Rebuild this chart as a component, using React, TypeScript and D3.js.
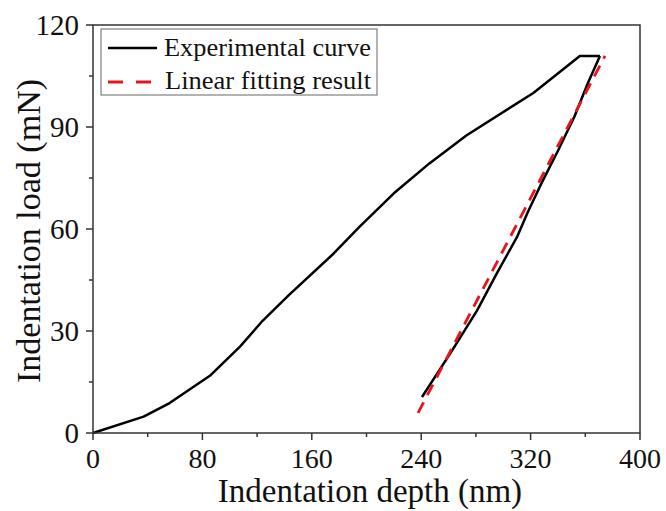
import React from "react";
import * as d3 from "d3";

const loadDepth = [0, 37, 56, 86, 107.5, 124, 143, 176, 195, 220, 246, 273, 322, 356, 370.7];
const loadForce = [0, 4.8, 8.8, 17, 25.4, 33, 40.5, 52.8, 60.7, 70.5, 79.3, 87.5, 100, 110.9, 110.9];
const unloadDepth = [370.7, 362, 352, 340, 328, 318, 310, 295.4, 280.8, 263, 240.6];
const unloadForce = [110.9, 103, 93, 83, 73.5, 65, 57.6, 47, 36, 24.5, 10.6];
const fitDepth = [237.7, 374.4];
const fitForce = [5.9, 110.9];
const xTicks = [0, 80, 160, 240, 320, 400];
const yTicks = [0, 30, 60, 90, 120];
const legendLabels = ["Experimental curve", "Linear fitting result"];

export default function App() {
  const W = 666, H = 511;
  const L = 93, R = 640, T = 25, B = 433;
  const x = d3.scaleLinear().domain([0, 400]).range([L, R]);
  const y = d3.scaleLinear().domain([0, 120]).range([B, T]);
  const line = d3.line<[number, number]>().x(d => x(d[0])).y(d => y(d[1]));
  const load = loadDepth.map((d, i) => [d, loadForce[i]] as [number, number]);
  const unload = unloadDepth.map((d, i) => [d, unloadForce[i]] as [number, number]);
  const fit = fitDepth.map((d, i) => [d, fitForce[i]] as [number, number]);
  const xMinor = d3.range(40, 400, 80);
  const yMinor = d3.range(15, 120, 30);
  const font = "'Liberation Serif', 'Times New Roman', serif";
  const axisColor = "#333";
  return (
    <svg width={W} height={H} style={{ position: "absolute", left: 0, top: 0 }} fontFamily={font}>
      <rect x={0} y={0} width={W} height={H} fill="#fff" />
      <path d={line(load) || ""} fill="none" stroke="#000" strokeWidth={2.5} strokeLinejoin="round" />
      <path d={line(unload) || ""} fill="none" stroke="#000" strokeWidth={2.5} strokeLinejoin="round" />
      <path d={line(fit) || ""} fill="none" stroke="#e8141c" strokeWidth={2.8} strokeDasharray="12 8" />
      <rect x={L} y={T} width={R - L} height={B - T} fill="none" stroke={axisColor} strokeWidth={1.5} />
      {xTicks.map(t => (
        <g key={"x" + t}>
          <line x1={x(t)} x2={x(t)} y1={B} y2={B + 7} stroke={axisColor} strokeWidth={1.5} />
          <text x={x(t)} y={468} textAnchor="middle" fontSize={28} fill="#111">{t}</text>
        </g>
      ))}
      {xMinor.map(t => (
        <line key={"xm" + t} x1={x(t)} x2={x(t)} y1={B} y2={B + 4} stroke={axisColor} strokeWidth={1.5} />
      ))}
      {yTicks.map(t => (
        <g key={"y" + t}>
          <line x1={L - 7} x2={L} y1={y(t)} y2={y(t)} stroke={axisColor} strokeWidth={1.5} />
          <text x={L - 14} y={y(t) + 10} textAnchor="end" fontSize={29} fill="#111">{t}</text>
        </g>
      ))}
      {yMinor.map(t => (
        <line key={"ym" + t} x1={L - 4} x2={L} y1={y(t)} y2={y(t)} stroke={axisColor} strokeWidth={1.5} />
      ))}
      <text x={370} y={502} textAnchor="middle" fontSize={33} fill="#111">Indentation depth (nm)</text>
      <text transform={`translate(40, 231) rotate(-90)`} textAnchor="middle" fontSize={34} fill="#111">Indentation load (mN)</text>
      <rect x={101} y={29} width={276} height={66} fill="#fff" stroke="#666" strokeWidth={1} />
      <line x1={108} x2={157} y1={48} y2={48} stroke="#000" strokeWidth={2.5} />
      <line x1={108} x2={151} y1={82} y2={82} stroke="#e8141c" strokeWidth={2.8} strokeDasharray="15 13" />
      <text x={164} y={56} fontSize={26} fill="#111" textLength={207} lengthAdjust="spacingAndGlyphs">{legendLabels[0]}</text>
      <text x={165} y={89} fontSize={26} fill="#111" textLength={206} lengthAdjust="spacingAndGlyphs">{legendLabels[1]}</text>
    </svg>
  );
}
